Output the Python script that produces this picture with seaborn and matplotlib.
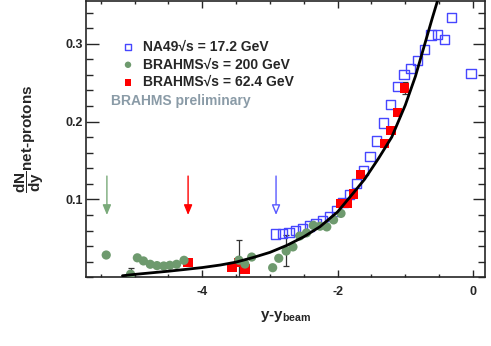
import numpy as np
import pandas as pd
import matplotlib
matplotlib.use("Agg")
import matplotlib.pyplot as plt
from matplotlib.ticker import MultipleLocator
import seaborn as sns

# NA49 sqrt(s)=17.2 GeV (open blue squares)
na49_x = [-2.92, -2.82, -2.72, -2.62, -2.52, -2.42, -2.32, -2.22, -2.12, -2.02,
          -1.92, -1.82, -1.72, -1.62, -1.52, -1.42, -1.32, -1.22, -1.12, -1.02,
          -0.92, -0.82, -0.72, -0.62, -0.52, -0.42, -0.32, -0.03]
na49_y = [0.0555, 0.0564, 0.0572, 0.0597, 0.0628, 0.0658, 0.0692, 0.0726, 0.0777, 0.085,
          0.0956, 0.1068, 0.1205, 0.1367, 0.1546, 0.175, 0.198, 0.222, 0.245, 0.260,
          0.268, 0.278, 0.292, 0.311, 0.312, 0.305, 0.334, 0.262]

# BRAHMS sqrt(s)=200 GeV (green circles)
b200_x = [-5.42, -5.06, -4.96, -4.87, -4.77, -4.67, -4.57, -4.48, -4.38, -4.27,
          -3.46, -3.37, -3.27, -2.96, -2.87, -2.76, -2.66, -2.56, -2.46, -2.36,
          -2.26, -2.16, -2.06, -1.95]
b200_y = [0.0286, 0.004, 0.025, 0.021, 0.0167, 0.015, 0.0145, 0.0154, 0.0167, 0.0218,
          0.022, 0.017, 0.026, 0.0123, 0.0244, 0.0337, 0.039, 0.053, 0.057, 0.0667,
          0.0656, 0.0647, 0.0737, 0.082]

# BRAHMS sqrt(s)=62.4 GeV (red squares)
b62_x = [-4.21, -3.56, -3.46, -3.37, -1.96, -1.86, -1.76, -1.66, -1.31, -1.21, -1.11, -1.01]
b62_y = [0.0187, 0.0128, 0.0187, 0.0106, 0.0949, 0.0949, 0.107, 0.132, 0.172, 0.188, 0.212, 0.243]

# error bars shown on a few points
err_x = [-5.06, -3.46, -2.76, -1.01]
err_y = [0.004, 0.022, 0.034, 0.243]
err_v = [0.008, 0.026, 0.020, 0.008]

# black curve
curve_x = [-5.18, -5.0, -4.72, -4.5, -4.23, -4.0, -3.73, -3.5, -3.24, -3.0, -2.75, -2.5,
           -2.26, -2.0, -1.77, -1.6, -1.4, -1.2, -1.0, -0.85, -0.7, -0.6, -0.52]
curve_y = [0.002, 0.0037, 0.006, 0.0078, 0.0103, 0.0125, 0.0158, 0.0195, 0.0256, 0.032,
           0.041, 0.052, 0.065, 0.084, 0.108, 0.126, 0.152, 0.180, 0.221, 0.258, 0.303,
           0.333, 0.356]

# beam rapidity arrows
arrow_x = [-5.41, -4.21, -2.91]
arrow_col = ["#7aaa7a", "#ff0000", "#5a5aff"]
arrow_fill = ["#7aaa7a", "#ff0000", "white"]

sns.set_style("ticks")
plt.rcParams["font.family"] = ["Liberation Sans", "DejaVu Sans"]
plt.rcParams["font.weight"] = "bold"
plt.rcParams["mathtext.fontset"] = "custom"
plt.rcParams["mathtext.rm"] = "Liberation Sans:bold"
plt.rcParams["mathtext.it"] = "Liberation Sans:bold"
plt.rcParams["mathtext.bf"] = "Liberation Sans:bold"

fig = plt.figure(figsize=(4.91, 3.46), dpi=100)
ax = fig.add_axes([0.175, 0.1986, 0.813, 0.799])

na49 = pd.DataFrame({"x": na49_x, "y": na49_y})
b200 = pd.DataFrame({"x": b200_x, "y": b200_y})
b62 = pd.DataFrame({"x": b62_x, "y": b62_y})
curve = pd.DataFrame({"x": curve_x, "y": curve_y})

ax.errorbar(err_x, err_y, yerr=err_v, fmt="none", ecolor="#333333",
            elinewidth=0.9, capsize=2, capthick=0.9, zorder=1)
sns.scatterplot(data=na49, x="x", y="y", ax=ax, marker="s", s=44,
                facecolor="none", edgecolor="#4646ff", linewidth=1.0,
                label="NA49√s = 17.2 GeV", zorder=2)
sns.scatterplot(data=b62, x="x", y="y", ax=ax, marker="s", s=44,
                color="#ff0000", edgecolor="none",
                label="BRAHMS√s = 62.4 GeV", zorder=3)
sns.scatterplot(data=b200, x="x", y="y", ax=ax, marker="o", s=44,
                color="#6e9a6e", edgecolor="none",
                label="BRAHMS√s = 200 GeV", zorder=4)
sns.lineplot(data=curve, x="x", y="y", ax=ax, color="black", linewidth=2,
             sort=False, estimator=None, zorder=5, legend=False)

for xa, c, f in zip(arrow_x, arrow_col, arrow_fill):
    ax.annotate("", xy=(xa, 0.080), xytext=(xa, 0.130),
                arrowprops=dict(arrowstyle="-|>,head_length=0.6,head_width=0.25",
                                ec=c, fc=f, lw=1, shrinkA=0, shrinkB=0))

ax.set_xlim(-5.72, 0.18)
ax.set_ylim(0, 0.355)
ax.set_xticks([-4, -2, 0])
ax.set_xticklabels(["-4", "-2", "0"])
ax.xaxis.set_minor_locator(MultipleLocator(0.5))
ax.set_yticks([0.1, 0.2, 0.3])
ax.yaxis.set_minor_locator(MultipleLocator(0.02))
ax.tick_params(which="both", direction="in", top=True, right=True, width=1)
ax.tick_params(axis="x", which="major", length=5, pad=6, labelsize=9)
ax.tick_params(axis="x", which="minor", length=2.5)
ax.tick_params(axis="y", which="major", length=9, pad=2, labelsize=9)
ax.tick_params(axis="y", which="minor", length=5)
for sp in ax.spines.values():
    sp.set_linewidth(1.2)

ax.set_xlabel(r"y-y$_{\mathregular{beam}}$", fontsize=11, fontweight="bold", labelpad=8)
ax.set_ylabel(r"$\dfrac{dN}{dy}$net-protons", fontsize=11, fontweight="bold", labelpad=14)

h, l = ax.get_legend_handles_labels()
order = [0, 2, 1]
ax.legend([h[i] for i in order], [l[i] for i in order], loc="upper left",
          bbox_to_anchor=(0.088, 0.86), frameon=False, borderpad=0, borderaxespad=0,
          handlelength=1.0, handletextpad=0.6, labelspacing=0.28, markerscale=0.7,
          prop={"weight": "bold", "size": 10})
ax.text(0.064, 0.639, "BRAHMS preliminary", transform=ax.transAxes, color="#8a9ba7",
        fontsize=10, fontweight="bold", va="center", ha="left")

fig.savefig("out.png", dpi=100)
